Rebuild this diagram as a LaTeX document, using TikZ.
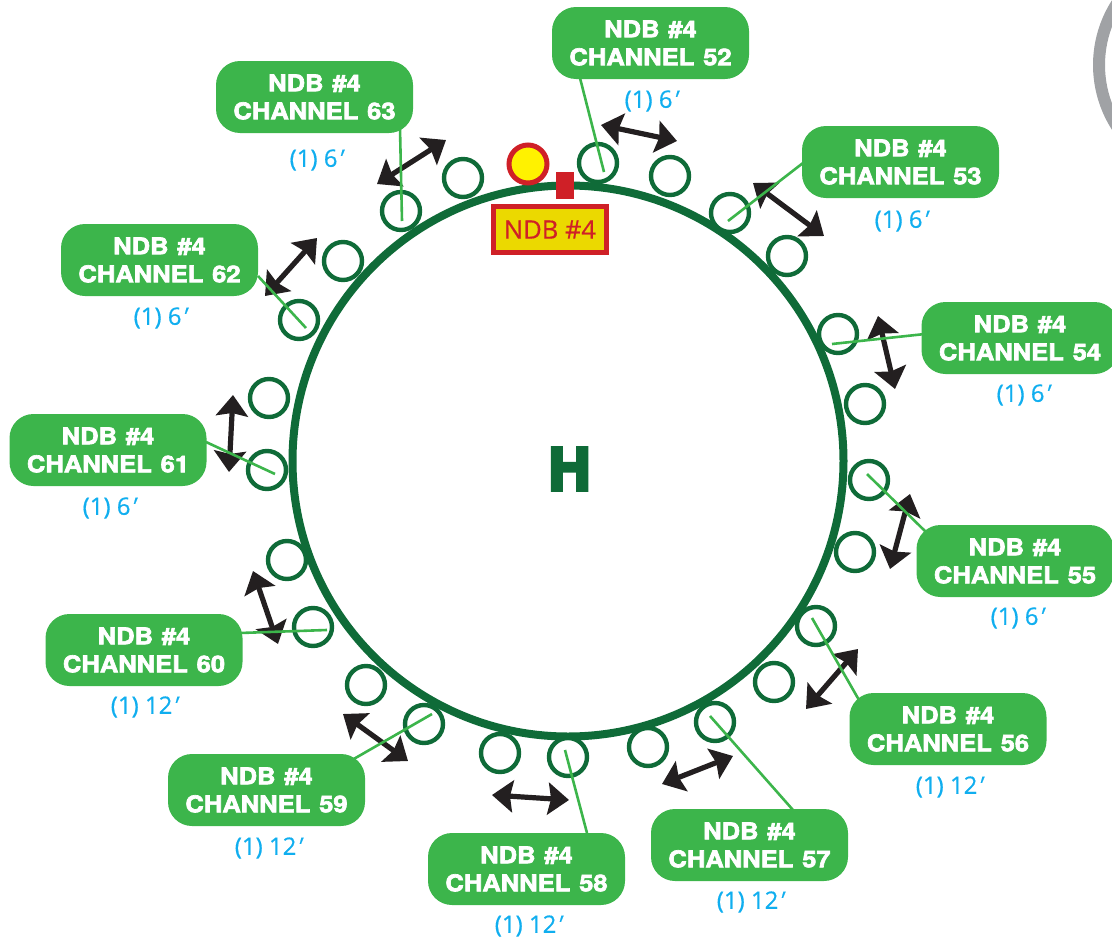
\documentclass[tikz,border=0pt]{standalone}
\usepackage{fontspec}
\usetikzlibrary{arrows.meta}
\newfontfamily\boxfont[FakeStretch=1.11,FakeBold=2.8,WordSpace=1.25]{TeX Gyre Heros Bold}
\newfontfamily\hfont[FakeBold=6]{TeX Gyre Heros Bold}
\newfontfamily\lenfont[FakeBold=0.5]{Open Sans}
\newfontfamily\primefont[FakeBold=0.5,FakeSlant=0.35]{Open Sans}
\newfontfamily\ndbfont[FakeBold=0.5]{Open Sans}
\definecolor{ringgreen}{HTML}{0F6B38}
\definecolor{boxgreen}{HTML}{3CB54B}
\definecolor{lenblue}{HTML}{10AEEF}
\definecolor{markred}{HTML}{CF2027}
\definecolor{markyellow}{HTML}{FFF200}
\definecolor{plateyellow}{HTML}{EBD900}
\definecolor{arrowblack}{HTML}{231F20}
\definecolor{arcgrey}{HTML}{A0A2A5}
\tikzset{
  ring/.style={draw=ringgreen,line width=8pt,circle,minimum size=551pt,inner sep=0pt},
  pad/.style={draw=ringgreen,line width=4.4pt,fill=white,circle,minimum size=38pt,inner sep=0pt},
  chanbox/.style={fill=boxgreen,rounded corners=24pt,minimum width=197pt,minimum height=72pt,inner sep=0pt,
    text=white,align=center,font=\fontsize{23}{28}\selectfont\boxfont},
  lenlabel/.style={text=lenblue,inner sep=0pt,font=\fontsize{24}{28}\selectfont\lenfont},
  leader/.style={draw=boxgreen,line width=2.6pt},
  span/.style={draw=arrowblack,line width=5.2pt,{Stealth[length=21pt,width=32pt,inset=3pt]}-{Stealth[length=21pt,width=32pt,inset=3pt]}},
}
\begin{document}
\begin{tikzpicture}[x=1pt,y=-1pt]
\useasboundingbox (0,0) rectangle (1112,937);
\clip (0,0) rectangle (1112,937);
\draw[arcgrey,line width=12pt] (1213,65) circle[radius=114];
\node[ring] (hring) at (568,461) {};
\node[inner sep=0pt,text=ringgreen,font=\fontsize{58}{58}\selectfont\hfont] (hmark) at (569.5,469) {H};
% pads and arrows
\foreach \id/\ax/\ay/\bx/\by/\px/\py/\qx/\qy in {
 52/598/163/670/176/601/125/677/141,
 53/730/213/787/256/753/183/824/236,
 54/838/334/865/404/878/316/895/389,
 55/869/480/855/552/910/494/890/569,
 56/816/626/774/682/858/649/806/709,
 57/715/722/648/747/733/756/662/784,
 58/568/757/500/753/569/800/492/795,
 59/424/724/366/685/408/761/343/714,
 60/313/627/287/560/253/571/278/644,
 61/267/470/269/398/233/395/229/472,
 62/299/320/343/261/317/238/265/296,
 63/401/211/463/178/446/140/377/184}{
  \node[pad] (p\id) at (\ax,\ay) {};
  \node[pad] (q\id) at (\bx,\by) {};
  \coordinate (u\id) at (\px,\py);
  \coordinate (v\id) at (\qx,\qy);
  \draw[span] (u\id) -- (v\id);
}
% channel boxes, lengths, leaders
\foreach \id/\x/\y/\lx/\ly/\len/\sx/\sy/\ex/\ey in {
 52/650.5/43/650/101/6/580/78/604/172,
 53/900.5/162/900/221/6/803/163/728/221,
 54/1020/338/1022/395/6/925/334/832/344,
 55/1015/561/1016/618/6/928/534/867/474,
 56/948/729/948/787/12/859/700/812/618,
 57/749.5/845/749/902/12/793/810/710/716,
 58/526.5/869/527/926/12/587/833/565/750,
 59/266.5/790/267/848/12/352/760/432/714,
 60/144/650/143/707/12/240/633/327/630,
 61/108/450/108/508/6/206/442/275/474,
 62/159.5/260/159/318/6/258/276/306/328,
 63/314.5/97/315/160/6/400/128/402/221}{
  \coordinate (s\id) at (\sx,\sy);
  \coordinate (e\id) at (\ex,\ey);
  \draw[leader] (s\id) -- (e\id);
  \node[chanbox] (b\id) at (\x,\y) {NDB \#4\\CHANNEL \id};
  \node[lenlabel] (l\id) at (\lx,\ly) {(1) \len\kern-2.5pt{\primefont ′}};
}
% NDB marker
\node[circle,draw=markred,fill=markyellow,line width=5pt,minimum size=38pt,inner sep=0pt] (ndbdot) at (528,164) {};
\node[fill=markred,minimum width=18pt,minimum height=27pt,inner sep=0pt] (ndbtab) at (565,185.5) {};
\node[draw=markred,fill=plateyellow,line width=5pt,minimum width=113pt,minimum height=46pt,inner sep=0pt,
  text=markred,font=\fontsize{25.5}{26}\selectfont\ndbfont] (ndbplate) at (550,229.5) {NDB \#4};
\end{tikzpicture}
\end{document}
